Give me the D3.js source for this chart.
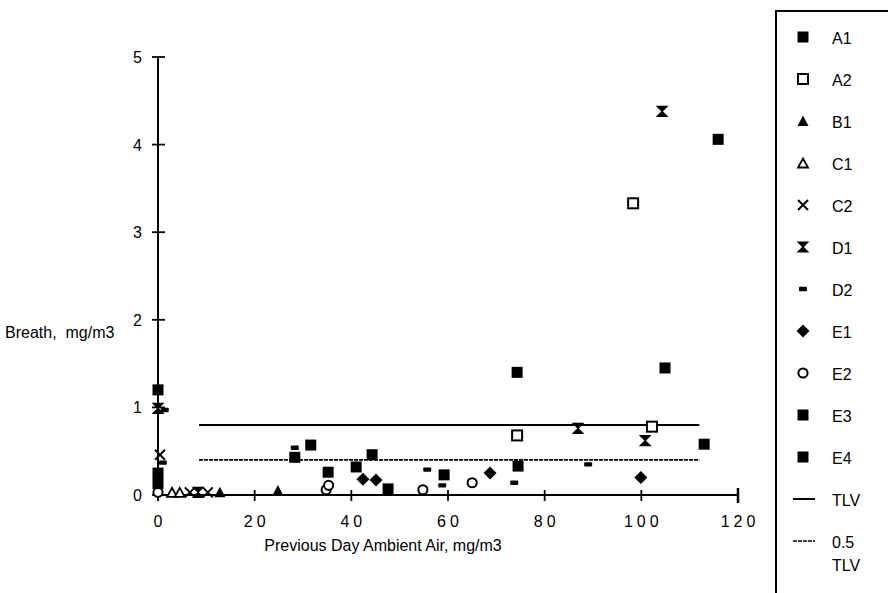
<!DOCTYPE html>
<html>
<head>
<meta charset="utf-8">
<script src="https://cdn.jsdelivr.net/npm/d3@7"></script>
<style>
  body { margin: 0; background: #fff; }
  svg { font-family: "Liberation Sans", Arial, sans-serif; }
</style>
</head>
<body>
<div id="chart"></div>
<script>
// --- Data ---
const seriesNames = ["A1", "A2", "B1", "C1", "C2", "D1", "D2", "E1", "E2", "E3", "E4"];

const A1 = [[0, 1.2], [74.3, 1.4], [104.9, 1.45], [115.9, 4.06]];
const A2 = [[74.3, 0.68], [98.3, 3.33], [102.2, 0.78]];
const B1 = [[12.8, 0.03], [24.8, 0.05]];
const C1 = [[2.9, 0.03], [4.5, 0.03]];
const C2 = [[0.4, 0.46], [6.6, 0.03], [10.3, 0.03]];
const D1 = [[0, 0.99], [8.3, 0.03], [86.9, 0.76], [100.8, 0.62], [104.3, 4.38]];
const D2 = [[1.4, 0.97], [1, 0.37], [28.3, 0.54], [55.7, 0.29], [58.8, 0.11], [73.7, 0.14], [89, 0.35]];
const E1 = [[42.4, 0.18], [45.1, 0.17], [68.7, 0.25], [99.9, 0.2]];
const E2 = [[0, 0.03], [34.8, 0.06], [35.3, 0.11], [54.8, 0.06], [65, 0.14]];
const E3 = [[0, 0.25], [28.3, 0.43], [31.6, 0.57], [35.2, 0.26], [41, 0.32], [44.3, 0.46], [113, 0.58]];
const E4 = [[0, 0.13], [47.6, 0.07], [59.2, 0.23], [74.5, 0.33]];

const tlv = 0.8;
const halfTlv = 0.4;
const tlvRange = [8.5, 112];

const xTicks = [0, 20, 40, 60, 80, 100, 120];
const yTicks = [0, 1, 2, 3, 4, 5];

const seriesData = { A1, A2, B1, C1, C2, D1, D2, E1, E2, E3, E4 };

// --- Marker shapes ---
function drawMarker(g, name) {
    if (name === "A1" || name === "E3" || name === "E4") {
        g.append("rect").attr("x", -5.5).attr("y", -5.5).attr("width", 11).attr("height", 11).attr("fill", "#000");
    } else if (name === "A2") {
        g.append("rect").attr("x", -5).attr("y", -5).attr("width", 10).attr("height", 10)
            .attr("fill", "#fff").attr("stroke", "#000").attr("stroke-width", 2);
    } else if (name === "B1") {
        g.append("path").attr("d", "M0,-5.5L5.5,5L-5.5,5Z").attr("fill", "#000");
    } else if (name === "C1") {
        g.append("path").attr("d", "M0,-4.5L5,4.5L-5,4.5Z").attr("fill", "#fff")
            .attr("stroke", "#000").attr("stroke-width", 1.8);
    } else if (name === "C2") {
        g.append("path").attr("d", "M-5,-5L5,5M5,-5L-5,5")
            .attr("stroke", "#000").attr("stroke-width", 2);
    } else if (name === "D1") {
        g.append("path").attr("d", "M-5,-5H5L-5,5H5Z").attr("fill", "#000")
            .attr("stroke", "#000").attr("stroke-width", 1.2);
    } else if (name === "D2") {
        g.append("rect").attr("x", -4).attr("y", -2.2).attr("width", 8).attr("height", 4.4)
            .attr("rx", 1).attr("fill", "#000");
    } else if (name === "E1") {
        g.append("path").attr("d", "M0,-6.5L6.5,0L0,6.5L-6.5,0Z").attr("fill", "#000");
    } else if (name === "E2") {
        g.append("circle").attr("r", 4.6).attr("fill", "#fff")
            .attr("stroke", "#000").attr("stroke-width", 2);
    }
}

// --- Chart ---
const width = 888, height = 593;
const margin = { top: 57, right: 150, bottom: 98, left: 158 };
const innerW = 738 - margin.left;
const innerH = 495 - margin.top;

const svg = d3.select("#chart").append("svg")
    .attr("width", width)
    .attr("height", height);

const x = d3.scaleLinear().domain([0, 120]).range([margin.left, margin.left + innerW]);
const y = d3.scaleLinear().domain([0, 5]).range([margin.top + innerH, margin.top]);

// Axes
const axis = svg.append("g").attr("stroke", "#000").attr("fill", "none");
axis.append("line")
    .attr("x1", x(0)).attr("x2", x(0))
    .attr("y1", y(5)).attr("y2", y(0) + 6)
    .attr("stroke-width", 2);
axis.append("line")
    .attr("x1", x(0)).attr("x2", x(120))
    .attr("y1", y(0)).attr("y2", y(0))
    .attr("stroke-width", 2);

yTicks.forEach(t => {
    axis.append("line")
        .attr("x1", x(0) - 6).attr("x2", x(0) + 7)
        .attr("y1", y(t)).attr("y2", y(t))
        .attr("stroke-width", 1.8);
});
xTicks.forEach(t => {
    const big = t === 120;
    axis.append("line")
        .attr("x1", x(t)).attr("x2", x(t))
        .attr("y1", y(0) - (big ? 7 : 5)).attr("y2", y(0) + (big ? 8 : 6))
        .attr("stroke-width", big ? 2.5 : 1.8);
});

svg.append("g").selectAll("text")
    .data(yTicks)
    .join("text")
    .attr("x", x(0) - 16)
    .attr("y", d => y(d) + 6)
    .attr("text-anchor", "end")
    .attr("font-size", "16px")
    .text(d => d);

svg.append("g").selectAll("text")
    .data(xTicks)
    .join("text")
    .attr("x", d => x(d) + 2)
    .attr("y", y(0) + 32)
    .attr("text-anchor", "middle")
    .attr("font-size", "16px")
    .attr("letter-spacing", "4px")
    .text(d => d);

// Axis titles
svg.append("text")
    .attr("x", 5)
    .attr("y", 338)
    .attr("font-size", "16px")
    .attr("xml:space", "preserve")
    .text("Breath,  mg/m3");

svg.append("text")
    .attr("x", 383)
    .attr("y", 551)
    .attr("text-anchor", "middle")
    .attr("font-size", "16px")
    .text("Previous Day Ambient Air, mg/m3");

// TLV lines
svg.append("line")
    .attr("x1", x(tlvRange[0])).attr("x2", x(tlvRange[1]))
    .attr("y1", y(tlv)).attr("y2", y(tlv))
    .attr("stroke", "#000").attr("stroke-width", 2);
svg.append("line")
    .attr("x1", x(tlvRange[0])).attr("x2", x(tlvRange[1]))
    .attr("y1", y(halfTlv)).attr("y2", y(halfTlv))
    .attr("stroke", "#000").attr("stroke-width", 1.7)
    .attr("stroke-dasharray", "4,1");

// Points
seriesNames.forEach(name => {
    svg.append("g").selectAll("g")
        .data(seriesData[name])
        .join("g")
        .attr("transform", d => `translate(${x(d[0])},${y(d[1])})`)
        .each(function () { drawMarker(d3.select(this), name); });
});

// Legend
const legend = svg.append("g");
legend.append("rect")
    .attr("x", 776).attr("y", 11)
    .attr("width", 200).attr("height", 700)
    .attr("fill", "none").attr("stroke", "#000").attr("stroke-width", 2);

seriesNames.forEach((name, i) => {
    const row = legend.append("g").attr("transform", `translate(803, ${37 + i * 42})`);
    drawMarker(row, name);
    row.append("text")
        .attr("x", 29).attr("y", 7)
        .attr("font-size", "16px")
        .text(name);
});

const tlvRow = legend.append("g").attr("transform", `translate(803, ${37 + 11 * 42})`);
tlvRow.append("line").attr("x1", -10).attr("x2", 12).attr("y1", 0).attr("y2", 0)
    .attr("stroke", "#000").attr("stroke-width", 2);
tlvRow.append("text").attr("x", 29).attr("y", 7).attr("font-size", "16px").text("TLV");

const halfRow = legend.append("g").attr("transform", `translate(803, ${37 + 12 * 42})`);
halfRow.append("line").attr("x1", -10).attr("x2", 12).attr("y1", 0).attr("y2", 0)
    .attr("stroke", "#000").attr("stroke-width", 1.7).attr("stroke-dasharray", "4,1");
halfRow.append("text").attr("x", 29).attr("y", 7).attr("font-size", "16px").text("0.5");
halfRow.append("text").attr("x", 29).attr("y", 30).attr("font-size", "16px").text("TLV");
</script>
</body>
</html>
